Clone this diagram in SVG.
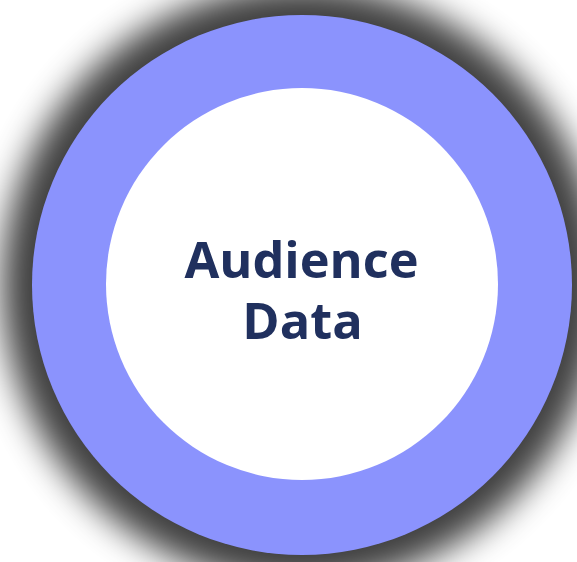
<svg xmlns="http://www.w3.org/2000/svg" width="577" height="562" viewBox="0 0 577 562">
<defs>
<filter id="shadow" x="-30%" y="-30%" width="160%" height="160%">
<feGaussianBlur stdDeviation="17"/>
</filter>
<style>
.label{font-family:"Open Sans","Liberation Sans",sans-serif;font-weight:700;font-size:50.5px;fill:#20305E;text-anchor:middle}
</style>
</defs>
<rect width="577" height="562" fill="#ffffff"/>
<g id="audience-data">
<circle cx="302" cy="285" r="300" fill="#000000" opacity="0.75" filter="url(#shadow)"/>
<circle cx="302" cy="285" r="270" fill="#8B93FD"/>
<circle cx="302" cy="284" r="196" fill="#ffffff"/>
<text class="label"><tspan x="301.5" y="277.5">Audience</tspan><tspan x="302.5" y="338.5">Data</tspan></text>
</g>
<g id="connectors"/>
</svg>
